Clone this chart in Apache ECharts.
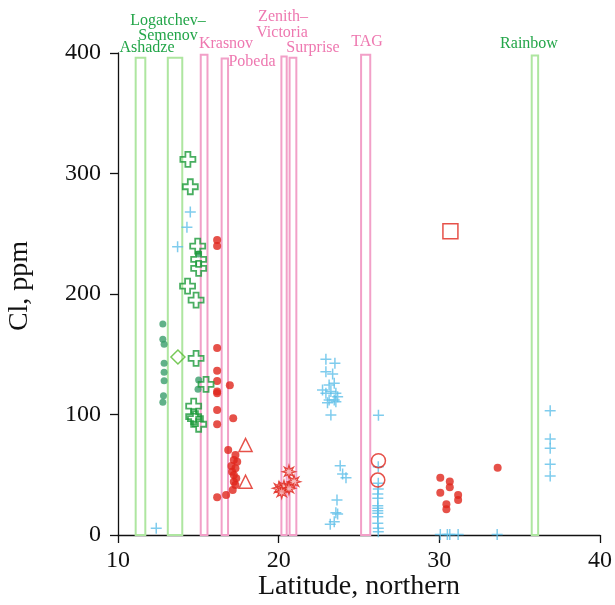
<!DOCTYPE html>
<html>
<head>
<meta charset="utf-8">
<script src="https://cdn.jsdelivr.net/npm/echarts@6/dist/echarts.min.js"></script>
<style>html,body{margin:0;padding:0;background:#fff}#c{width:615px;height:605px}</style>
</head>
<body>
<div id="c"></div>
<script>
// ---- data (latitude N, Cl ppm) ----
var xTicks = [10, 20, 30, 40];
var yTicks = [0, 100, 200, 300, 400];

// vent field bands: [latMin, latMax, top]
var greenFields = [[11.1, 11.7, 396], [13.1, 14.0, 396], [35.75, 36.15, 398]];
var pinkFields  = [[15.15, 15.57, 398.5], [16.45, 16.85, 395.5], [20.17, 20.5, 397], [20.68, 21.1, 396], [25.13, 25.7, 398.5]];
var greenFieldNames = ['Ashadze', 'Logatchev\u2013', 'Semenov', 'Rainbow'];
var pinkFieldNames = ['Krasnov', 'Pobeda', 'Zenith\u2013', 'Victoria', 'Surprise', 'TAG'];

var greenDots = [[12.79,175.1],[12.79,162.4],[12.87,158.3],[12.87,142.5],[12.87,135],[12.87,128],[12.83,115.6],[12.79,110.1],[15.02,128.6],[14.98,120.9],[15.0,233.2]];
var greenDiamond = [[13.73,147.7]];
var greenCrosses = [[14.35,311.8],[14.5,289],[14.96,239.8],[15.02,228.8],[15.02,221.3],[14.33,206.6],[14.86,195],[14.86,146.6],[15.48,125],[14.71,107],[14.71,98.2],[14.82,96.5],[15.02,91.9]];
var redDots = [[16.17,244.8],[16.17,239.8],[16.17,155.2],[16.17,136.4],[16.17,127.8],[16.96,124.2],[16.17,119],[16.17,117.6],[16.17,103.7],[17.17,96.8],[16.17,91.9],
  [16.86,70.5],[17.31,66.4],[17.21,62.2],[17.42,60.8],[17.06,57.3],[17.31,55.3],[17.1,52.5],[17.21,49.8],[17.36,47.0],[17.21,44.2],[17.31,41.5],[17.14,37.3],[16.73,33.2],[16.17,31.3],
  [30.06,47.6],[30.65,44.3],[30.65,39.6],[30.06,35.1],[31.17,33.2],[31.17,29],[30.44,25.5],[30.44,21.3],[33.63,55.9]];
var redTriangles = [[17.94,74.7],[17.94,44.2]];
var redStars = [[20.64,52.5],[20.02,38.8],[20.33,40.1],[20.96,44.2],[20.64,38.8],[20.19,35.7]];
var redCircles = [[26.21,61.7],[26.17,45.6]];
var redSquare = [[30.69,252]];
var blueCrosses = [[14.5,268],[14.29,255.4],[13.71,239.3],[12.38,5.6],
  [22.94,145.8],[23.5,142.5],[22.94,135.5],[23.36,133.6],[23.14,124.5],[23.46,125.9],[22.94,117.6],[23.25,119],[23.56,117.6],[23.67,114.8],[23.14,112],[23.46,112],[23.04,109.8],[23.56,110.6],[23.25,99.6],[22.73,120.3],
  [26.21,99.3],[23.83,57.5],[23.98,50.6],[24.19,47.6],[23.63,29],[23.56,18.5],[23.67,17.4],[23.46,11],[23.21,8.9],
  [26.2,56.7],[26.2,42.9],[26.2,38.2],[26.17,34],[26.17,30.4],[26.17,24.3],[26.17,22.1],[26.17,20.2],[26.17,18],[26.17,15.2],[26.17,9.7],[26.2,5.6],[26.2,2.8],
  [30.06,0.5],[30.5,0.5],[30.65,0.5],[31.17,0.5],[33.6,0.5],
  [36.9,103.2],[36.9,79.7],[36.9,71.9],[36.9,58.7],[36.9,49]];

// ---- styling ----
var SERIF = '"Liberation Serif","Times New Roman",serif';
var GREEN_BOX = '#aee6a0', PINK_BOX = '#f2a0c8';
var GREEN_TXT = '#22a548', PINK_TXT = '#ee78b0';

function starPath(n, ro, ri) {
  var s = 'path://';
  for (var k = 0; k < 2 * n; k++) {
    var r = k % 2 ? ri : ro, a = Math.PI * k / n - Math.PI / 2;
    s += (k ? 'L' : 'M') + (10 + r * Math.cos(a)).toFixed(2) + ',' + (10 + r * Math.sin(a)).toFixed(2);
  }
  return s + 'Z';
}

function boxSeries(data, color) {
  return {
    type: 'custom', data: data, silent: true, z: 1,
    renderItem: function (params, api) {
      var p0 = api.coord([api.value(0), api.value(2)]);
      var p1 = api.coord([api.value(1), 0]);
      return { type: 'rect', shape: { x: p0[0], y: p0[1], width: p1[0] - p0[0], height: p1[1] - p0[1] },
        style: { fill: 'none', stroke: color, lineWidth: 2 } };
    },
    encode: { x: [0, 1], y: 2 }
  };
}

function scat(data, symbol, size, style, z) {
  return { type: 'scatter', data: data, symbol: symbol, symbolSize: size, itemStyle: style, z: z || 3, silent: true };
}

var chart = echarts.init(document.getElementById('c'), null, { renderer: 'canvas' });

function label(text, x, y, color) {
  return { type: 'text', left: x, top: y, style: { text: text, fill: color, font: '16px ' + SERIF, textAlign: 'center', textVerticalAlign: 'middle' } };
}

chart.setOption({
  animation: false,
  backgroundColor: '#fff',
  grid: { left: 118, right: 15, top: 53, bottom: 70, containLabel: false },
  xAxis: {
    type: 'value', min: xTicks[0], max: xTicks[xTicks.length - 1], interval: 10,
    axisLine: { lineStyle: { color: '#111', width: 1.3 } },
    axisTick: { length: 8, lineStyle: { color: '#111', width: 1.3 } },
    axisLabel: { margin: 14, fontFamily: SERIF, fontSize: 24, color: '#111' },
    splitLine: { show: false }
  },
  yAxis: {
    type: 'value', min: yTicks[0], max: yTicks[yTicks.length - 1], interval: 100,
    axisLine: { show: true, lineStyle: { color: '#111', width: 1.3 } },
    axisTick: { show: true, length: 8, lineStyle: { color: '#111', width: 1.3 } },
    axisLabel: { margin: 17, fontFamily: SERIF, fontSize: 24, color: '#111' },
    splitLine: { show: false }
  },
  graphic: [
    { type: 'text', x: 359, y: 587, style: { text: 'Latitude, northern', fill: '#111', font: '28px ' + SERIF, textAlign: 'center', textVerticalAlign: 'middle' } },
    { type: 'text', x: 20, y: 286, rotation: Math.PI / 2, style: { text: 'Cl, ppm', fill: '#111', font: '28px ' + SERIF, textAlign: 'center', textVerticalAlign: 'middle' } },
    { type: 'group', children: [
      { type: 'text', x: 147, y: 48, style: { text: greenFieldNames[0], fill: GREEN_TXT, font: '16px ' + SERIF, textAlign: 'center', textVerticalAlign: 'middle' } },
      { type: 'text', x: 168, y: 21, style: { text: greenFieldNames[1], fill: GREEN_TXT, font: '16px ' + SERIF, textAlign: 'center', textVerticalAlign: 'middle' } },
      { type: 'text', x: 168, y: 36, style: { text: greenFieldNames[2], fill: GREEN_TXT, font: '16px ' + SERIF, textAlign: 'center', textVerticalAlign: 'middle' } },
      { type: 'text', x: 529, y: 44, style: { text: greenFieldNames[3], fill: GREEN_TXT, font: '16px ' + SERIF, textAlign: 'center', textVerticalAlign: 'middle' } },
      { type: 'text', x: 226, y: 44, style: { text: pinkFieldNames[0], fill: PINK_TXT, font: '16px ' + SERIF, textAlign: 'center', textVerticalAlign: 'middle' } },
      { type: 'text', x: 252, y: 62, style: { text: pinkFieldNames[1], fill: PINK_TXT, font: '16px ' + SERIF, textAlign: 'center', textVerticalAlign: 'middle' } },
      { type: 'text', x: 283, y: 17, style: { text: pinkFieldNames[2], fill: PINK_TXT, font: '16px ' + SERIF, textAlign: 'center', textVerticalAlign: 'middle' } },
      { type: 'text', x: 282, y: 33, style: { text: pinkFieldNames[3], fill: PINK_TXT, font: '16px ' + SERIF, textAlign: 'center', textVerticalAlign: 'middle' } },
      { type: 'text', x: 313, y: 48, style: { text: pinkFieldNames[4], fill: PINK_TXT, font: '16px ' + SERIF, textAlign: 'center', textVerticalAlign: 'middle' } },
      { type: 'text', x: 367, y: 42, style: { text: pinkFieldNames[5], fill: PINK_TXT, font: '16px ' + SERIF, textAlign: 'center', textVerticalAlign: 'middle' } }
    ]}
  ],
  series: [
    boxSeries(greenFields, GREEN_BOX),
    boxSeries(pinkFields, PINK_BOX),
    scat(blueCrosses, 'path://M5,0V10M0,5H10', 11, { color: 'none', borderColor: '#5fbfe8', borderWidth: 1.5 }, 3),
    scat(greenDots, 'circle', 7, { color: '#3a9e6c' }, 4),
    scat(greenDiamond, 'diamond', 14, { color: 'rgba(255,255,255,0)', borderColor: '#55bb2e', borderWidth: 1.5 }, 4),
    scat(greenCrosses, 'path://M5,0H10V5H15V10H10V15H5V10H0V5H5Z', 15, { color: 'rgba(255,255,255,0)', borderColor: '#1c9a3a', borderWidth: 1.8 }, 5),
    scat(redDots, 'circle', 8, { color: '#e0261c' }, 4),
    scat(redTriangles, 'triangle', 13, { color: 'rgba(255,255,255,0)', borderColor: '#e0261c', borderWidth: 1.5 }, 4),
    scat(redStars, starPath(8, 10, 4.5), 13, { color: '#f6b0b0', borderColor: '#e0261c', borderWidth: 1.2 }, 4),
    scat(redCircles, 'circle', 14, { color: 'rgba(255,255,255,0)', borderColor: '#e0261c', borderWidth: 1.5 }, 4),
    scat(redSquare, 'rect', 15, { color: 'rgba(255,255,255,0)', borderColor: '#e0261c', borderWidth: 1.5 }, 4)
  ]
});
</script>
</body>
</html>
